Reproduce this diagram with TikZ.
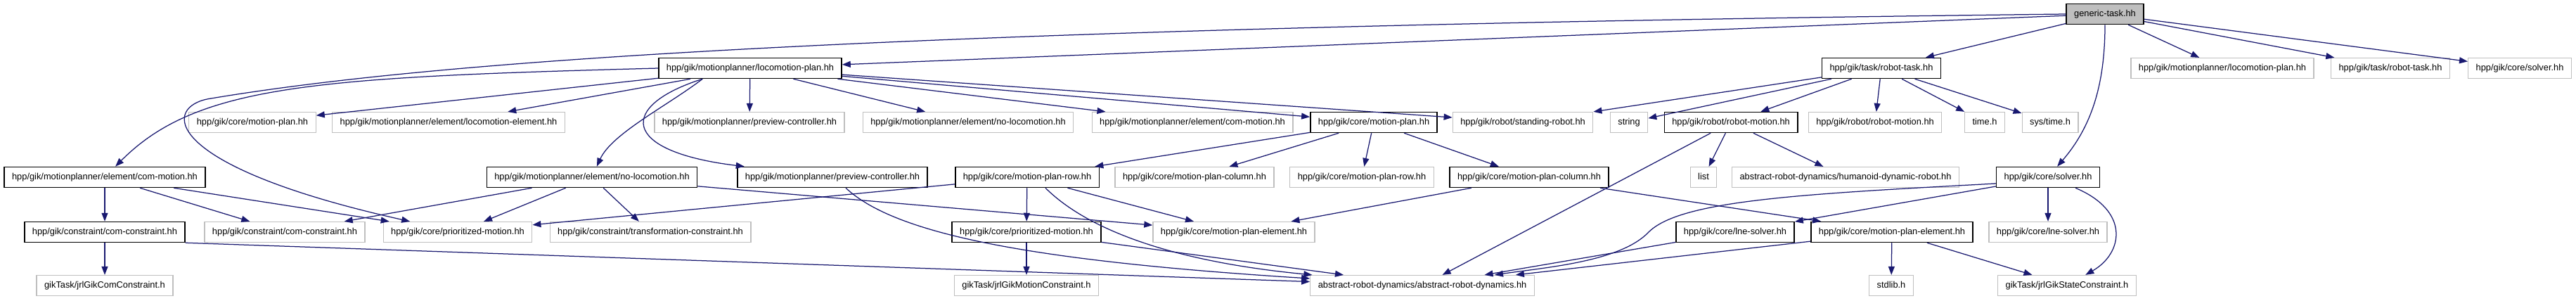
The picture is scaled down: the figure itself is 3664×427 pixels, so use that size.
\documentclass[tikz,border=0pt]{standalone}
\usepackage{fontspec}
\setmainfont{Liberation Sans}
\usepackage{xcolor}
\usepackage{tikz}
\usetikzlibrary{arrows.meta,calc}
\definecolor{edgeblue}{HTML}{191970}
\definecolor{boxgray}{HTML}{BFBFBF}

\begin{document}
\begin{tikzpicture}[x=0.02cm, y=-0.02cm,
  every node/.style={font=\fontsize{7.3}{8.7}\selectfont, inner xsep=0.22cm, inner ysep=0pt, minimum height=0.58cm, text height=5.3pt, text depth=1.5pt},
  docbox/.style={draw=black, line width=0.03cm, fill=white},
  extbox/.style={draw=boxgray, line width=0.025cm, fill=white},
  rootbox/.style={draw=black, line width=0.03cm, fill=boxgray},
  >={Triangle[length=2.4mm,width=1.8mm]},
  incl/.style={->, edgeblue, line width=0.025cm}]
\useasboundingbox (0,0) rectangle (3664,427);

\node[rootbox] (gt) at (2994,20) {generic-task.hh};

\node[docbox] (lp) at (1067,97) {hpp/gik/motionplanner/locomotion-plan.hh};
\node[docbox] (rt) at (2676,97) {hpp/gik/task/robot-task.hh};
\node[extbox] (lpx) at (3161,97) {hpp/gik/motionplanner/locomotion-plan.hh};
\node[extbox] (rtx) at (3400,97) {hpp/gik/task/robot-task.hh};
\node[extbox] (svx) at (3584,97) {hpp/gik/core/solver.hh};

\node[extbox] (mpx) at (359,174) {hpp/gik/core/motion-plan.hh};
\node[extbox] (lex) at (638,174) {hpp/gik/motionplanner/element/locomotion-element.hh};
\node[extbox] (pcx) at (1066,174) {hpp/gik/motionplanner/preview-controller.hh};
\node[extbox] (nlx) at (1377,174) {hpp/gik/motionplanner/element/no-locomotion.hh};
\node[extbox] (cmx) at (1696,174) {hpp/gik/motionplanner/element/com-motion.hh};
\node[docbox] (mp) at (1954,174) {hpp/gik/core/motion-plan.hh};
\node[extbox] (srx) at (2166,174) {hpp/gik/robot/standing-robot.hh};
\node[extbox] (str) at (2317,174) {string};
\node[docbox] (rm) at (2462,174) {hpp/gik/robot/robot-motion.hh};
\node[extbox] (rmx) at (2667,174) {hpp/gik/robot/robot-motion.hh};
\node[extbox] (timeh) at (2823,174) {time.h};
\node[extbox] (systime) at (2916,174) {sys/time.h};

\node[docbox] (cm) at (149,252) {hpp/gik/motionplanner/element/com-motion.hh};
\node[docbox] (nl) at (842,252) {hpp/gik/motionplanner/element/no-locomotion.hh};
\node[docbox] (pc) at (1184,252) {hpp/gik/motionplanner/preview-controller.hh};
\node[docbox] (mpr) at (1461,252) {hpp/gik/core/motion-plan-row.hh};
\node[extbox] (mpcx) at (1699,252) {hpp/gik/core/motion-plan-column.hh};
\node[extbox] (mprx) at (1937,252) {hpp/gik/core/motion-plan-row.hh};
\node[docbox] (mpc) at (2175,252) {hpp/gik/core/motion-plan-column.hh};
\node[extbox] (lst) at (2423,252) {list};
\node[extbox] (hdr) at (2625,252) {abstract-robot-dynamics/humanoid-dynamic-robot.hh};
\node[docbox] (sv) at (2913,252) {hpp/gik/core/solver.hh};

\node[docbox] (cc) at (149,330) {hpp/gik/constraint/com-constraint.hh};
\node[extbox] (ccx) at (405,330) {hpp/gik/constraint/com-constraint.hh};
\node[extbox] (pmx) at (651,330) {hpp/gik/core/prioritized-motion.hh};
\node[extbox] (tc) at (925,330) {hpp/gik/constraint/transformation-constraint.hh};
\node[docbox] (pm) at (1460,330) {hpp/gik/core/prioritized-motion.hh};
\node[extbox] (mpex) at (1755,330) {hpp/gik/core/motion-plan-element.hh};
\node[docbox] (ls) at (2468,330) {hpp/gik/core/lne-solver.hh};
\node[docbox] (mpe) at (2691,330) {hpp/gik/core/motion-plan-element.hh};
\node[extbox] (lsx) at (2913,330) {hpp/gik/core/lne-solver.hh};

\node[extbox] (gcc) at (149,406) {gikTask/jrlGikComConstraint.h};
\node[extbox] (gmc) at (1460,406) {gikTask/jrlGikMotionConstraint.h};
\node[extbox] (ard) at (2023,406) {abstract-robot-dynamics/abstract-robot-dynamics.hh};
\node[extbox] (stdl) at (2690,406) {stdlib.h};
\node[extbox] (gsc) at (2940,406) {gikTask/jrlGikStateConstraint.h};

\draw[incl] (gt) -- (lp);
\draw[incl] (gt.west) .. controls (1200,40) and (600,90) .. (300,140) .. controls (230,150) and (225,235) .. (pmx);
\draw[incl] (gt) -- (rt);
\draw[incl] (gt.south) .. controls (2994,120) and (2975,180) .. (sv);
\draw[incl] (gt) -- (lpx);
\draw[incl] (gt) -- (rtx);
\draw[incl] (gt) -- (svx);

\draw[incl] (lp.west) .. controls (450,110) and (280,120) .. (cm);
\draw[incl] (lp) -- (mpx);
\draw[incl] (lp) -- (lex);
\draw[incl] ($(lp.south west)+(63,0)$) .. controls (950,150) and (870,190) .. (nl);
\draw[incl] ($(lp.south west)+(63,0)$) .. controls (880,150) and (880,215) .. (pc);
\draw[incl] (lp) -- (pcx);
\draw[incl] (lp) -- (nlx);
\draw[incl] (lp) -- (cmx);
\draw[incl] (lp) -- (mp);
\draw[incl] (lp) -- (srx);

\draw[incl] (rt) -- (srx);
\draw[incl] (rt) -- (str);
\draw[incl] (rt) -- (rm);
\draw[incl] (rt) -- (rmx);
\draw[incl] (rt) -- (timeh);
\draw[incl] (rt) -- (systime);

\draw[incl] (mp) -- (mpr);
\draw[incl] (mp) -- (mpcx);
\draw[incl] (mp) -- (mprx);
\draw[incl] (mp) -- (mpc);

\draw[incl] (rm) -- (ard);
\draw[incl] (rm) -- (lst);
\draw[incl] (rm) -- (hdr);

\draw[incl] (cm) -- (cc);
\draw[incl] (cm) -- (ccx);
\draw[incl] (cm) -- (pmx);

\draw[incl] (nl) -- (ccx);
\draw[incl] (nl) -- (pmx);
\draw[incl] (nl) -- (tc);
\draw[incl] (nl) -- (mpex);

\draw[incl] ($(pc.south)+(19,0)$) .. controls (1270,330) and (1450,370) .. (ard);

\draw[incl] (mpr) -- (pmx);
\draw[incl] (mpr) -- (pm);
\draw[incl] (mpr) -- (mpex);
\draw[incl] ($(mpr.south)+(26,0)$) .. controls (1540,320) and (1650,370) .. (ard);

\draw[incl] (mpc) -- (mpex);
\draw[incl] (mpc) -- (mpe);

\draw[incl] ($(sv.west)+(0,9)$) .. controls (2560,276) and (2390,285) .. (2345,330) .. controls (2305,372) and (2200,380) .. (ard);
\draw[incl] (sv) -- (ls);
\draw[incl] (sv) -- (lsx);
\draw[incl] ($(sv.south)+(39,0)$) .. controls (3030,300) and (3020,360) .. (gsc);

\draw[incl] (cc) -- (gcc);
\draw[incl] (cc.south east) -- (ard);
\draw[incl] (pm) -- (gmc);
\draw[incl] (pm) -- (ard);
\draw[incl] (ls) -- (ard);
\draw[incl] (mpe) -- (ard);
\draw[incl] (mpe) -- (stdl);
\draw[incl] (mpe) -- (gsc);
\end{tikzpicture}
\end{document}
